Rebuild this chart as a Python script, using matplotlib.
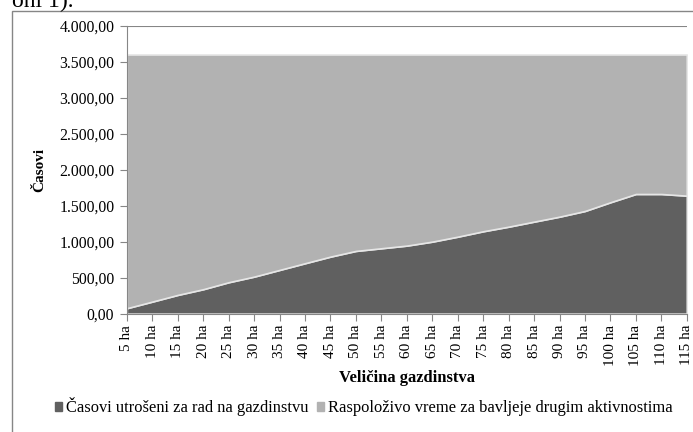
import matplotlib
matplotlib.use("Agg")
import matplotlib.pyplot as plt
import matplotlib.patches as mpatches
from matplotlib.ticker import FuncFormatter
import numpy as np

plt.rcParams['font.family'] = ['Liberation Serif', 'DejaVu Serif']

# Data
categories = [f"{v} ha" for v in range(5, 120, 5)]
hours_farm = [75, 167, 260, 339, 436, 514, 607, 700, 792, 871, 908, 945,
              1000, 1069, 1144, 1208, 1278, 1347, 1426, 1547, 1662, 1662, 1639]
total_hours = 3600
hours_free = [total_hours - h for h in hours_farm]
series_names = ["Časovi utrošeni za rad na gazdinstvu",
                "Raspoloživo vreme za bavljeje drugim aktivnostima"]
colors = ["#606060", "#b2b2b2"]

fig = plt.figure(figsize=(6.93, 4.32), dpi=100)
ax = fig.add_axes([0.183, 0.274, 0.808, 0.6665])

x = np.arange(len(categories))
ax.stackplot(x, hours_farm, hours_free, colors=colors, edgecolor='#e6e6e6',
             linewidth=1.2, zorder=2)

ax.set_xlim(0, len(categories) - 1)
ax.set_ylim(0, 4000)
ax.set_yticks(np.arange(0, 4001, 500))
ax.yaxis.set_major_formatter(FuncFormatter(
    lambda v, p: f"{v:,.2f}".replace(",", "X").replace(".", ",").replace("X", ".")))
ax.set_xticks(x)
ax.set_xticklabels(categories, rotation=90, fontsize=11)
ax.tick_params(axis='y', labelsize=11.3, length=5, color='#868686', pad=4)
ax.tick_params(axis='x', length=5, color='#868686', pad=3)

ax.grid(axis='y', color='#868686', linewidth=0.8, zorder=0)
ax.set_axisbelow(True)
for side in ['top', 'right']:
    ax.spines[side].set_visible(False)
for side in ['left', 'bottom']:
    ax.spines[side].set_color('#868686')

ax.set_ylabel("Časovi", fontsize=11, fontweight='bold', labelpad=9)
ax.set_xlabel("Veličina gazdinstva", fontsize=12, fontweight='bold', labelpad=3)

handles = [mpatches.Patch(color=c, label=n) for c, n in zip(colors, series_names)]
fig.legend(handles=handles, loc='center left', bbox_to_anchor=(0.079, 0.058), ncol=2,
           frameon=False, fontsize=11.9, handlelength=0.42, handleheight=0.42,
           handletextpad=0.25, columnspacing=0.5, borderpad=0, borderaxespad=0)

# chart border
fig.patches.append(mpatches.Rectangle((0.017, -0.01), 1.0, 0.985, transform=fig.transFigure,
                                      fill=False, edgecolor='#868686', linewidth=1))
# clipped text from the surrounding page
fig.text(0.018, 0.997, "oni 1).", fontsize=17, va='center', ha='left')

fig.savefig("out.png", dpi=100)
